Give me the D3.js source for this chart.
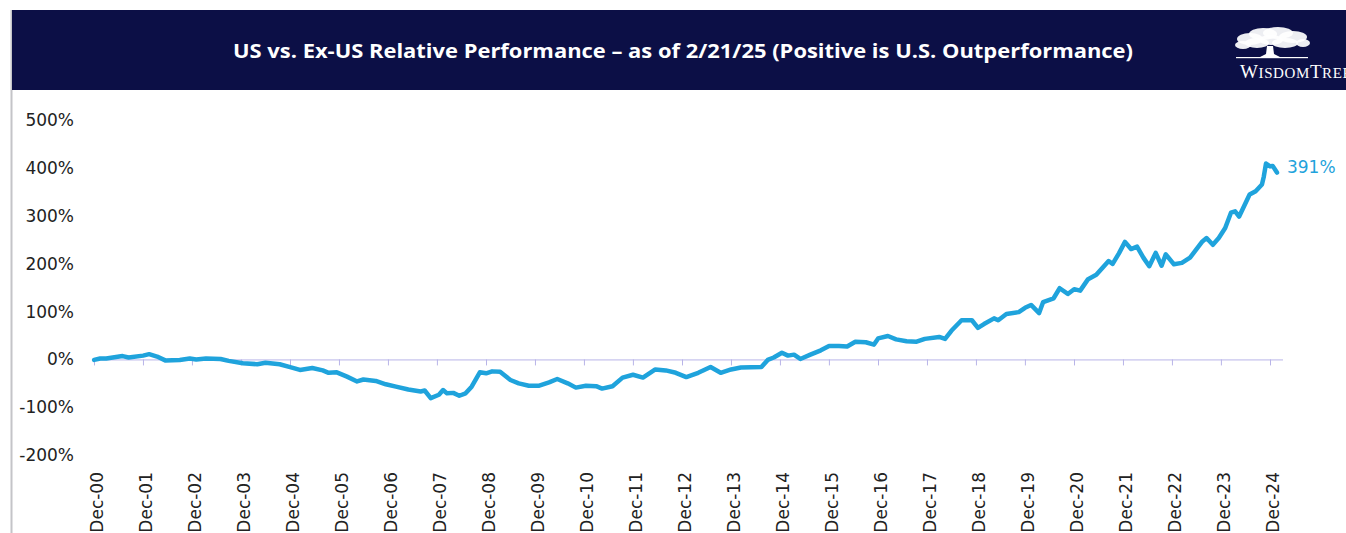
<!doctype html>
<html lang="en">
<head>
<meta charset="utf-8">
<title>US vs. Ex-US Relative Performance</title>
<style>
  body { margin: 0; background: #fff; }
  svg { display: block; }
</style>
</head>
<body>
<script src="https://cdnjs.cloudflare.com/ajax/libs/d3/7.8.5/d3.min.js"></script>
<script>

// relative performance readings (US minus ex-US, %)
var dates = [
  "2001-01-01","2001-02-15","2001-04-01","2001-08-01","2001-09-15","2002-01-01","2002-02-15","2002-04-15",
  "2002-06-15","2002-10-01","2002-12-15","2003-02-01","2003-04-15","2003-08-01","2003-10-01","2004-01-15",
  "2004-05-01","2004-07-01","2004-10-15","2005-01-01","2005-03-15","2005-06-15","2005-09-01","2005-10-15",
  "2005-12-15","2006-03-01","2006-05-15","2006-07-01","2006-10-01","2006-12-15","2007-03-01","2007-06-01",
  "2007-09-01","2007-10-01","2007-11-15","2008-01-15","2008-02-15","2008-03-15","2008-05-01","2008-06-15",
  "2008-08-01","2008-09-15","2008-11-15","2009-01-01","2009-02-15","2009-04-15","2009-07-01","2009-09-01",
  "2009-11-15","2010-02-01","2010-04-15","2010-06-15","2010-09-01","2010-11-01","2011-01-15","2011-04-01",
  "2011-05-15","2011-08-01","2011-10-15","2012-01-01","2012-03-15","2012-06-15","2012-09-01","2012-11-15",
  "2013-02-01","2013-05-01","2013-08-01","2013-10-15","2014-01-01","2014-03-15","2014-08-15","2014-10-01",
  "2014-11-15","2015-01-15","2015-03-01","2015-04-15","2015-06-01","2015-08-15","2015-11-01","2016-01-01",
  "2016-03-15","2016-05-15","2016-07-15","2016-10-01","2016-12-01","2017-01-01","2017-03-15","2017-05-15",
  "2017-08-01","2017-10-15","2017-12-15","2018-04-01","2018-05-15","2018-07-01","2018-09-15","2018-12-01",
  "2019-01-15","2019-03-01","2019-05-15","2019-06-15","2019-08-15","2019-11-15","2020-01-01","2020-02-15",
  "2020-04-15","2020-05-15","2020-08-01","2020-09-15","2020-11-15","2021-01-01","2021-02-15","2021-04-15",
  "2021-06-15","2021-08-01","2021-09-15","2021-10-15","2021-12-01","2022-01-15","2022-03-01","2022-04-15",
  "2022-06-01","2022-07-15","2022-09-01","2022-10-15","2022-11-15","2023-01-15","2023-03-15","2023-05-15",
  "2023-08-15","2023-09-15","2023-11-01","2023-12-15","2024-02-01","2024-03-15","2024-04-15","2024-05-15",
  "2024-07-01","2024-08-01","2024-09-15","2024-11-01","2024-11-15","2024-12-01","2025-01-01","2025-01-20",
  "2025-02-21"
];
var values = [
  -1, 2, 2, 7, 4, 8, 11, 6,
  -2, -1, 2, 0, 2, 1, -3, -8,
  -10, -7, -10, -16, -22, -18, -23, -28,
  -27, -36, -46, -42, -45, -52, -57, -63,
  -67, -65, -81, -74, -64, -71, -70, -76,
  -71, -57, -27, -29, -25, -26, -43, -50,
  -55, -55, -48, -41, -50, -59, -55, -56,
  -61, -56, -38, -32, -38, -21, -23, -28,
  -37, -28, -16, -28, -21, -17, -16, -1,
  4, 14, 8, 10, 1, 10, 19, 28,
  28, 27, 37, 36, 31, 44, 49, 42,
  38, 37, 43, 47, 43, 60, 82, 82,
  66, 74, 86, 82, 95, 99, 108, 114,
  97, 120, 128, 149, 137, 147, 144, 168,
  177, 192, 206, 200, 222, 246, 231, 236,
  213, 195, 223, 196, 220, 199, 202, 213,
  247, 254, 240, 254, 275, 307, 310, 299,
  327, 345, 352, 366, 383, 410, 404, 405,
  391
];

var yTicks = [-200, -100, 0, 100, 200, 300, 400, 500];
var xTickYears = d3.range(2000, 2025); // Dec-00 .. Dec-24
var titleText = "US vs. Ex-US Relative Performance \u2013 as of 2/21/25 (Positive is U.S. Outperformance)";
var endLabel = "391%";

var W = 1346, H = 533;
var blue = "#1fa3dc";
var parse = d3.timeParse("%Y-%m-%d");
var data = dates.map(function(d, i){ return { date: parse(d), value: values[i] }; });

var svg = d3.select("body").append("svg")
    .attr("width", W)
    .attr("height", H);

// left frame line
svg.append("line")
   .attr("x1", 11.5).attr("x2", 11.5)
   .attr("y1", 10).attr("y2", H)
   .attr("stroke", "#c4c4c8").attr("stroke-width", 2);

// title bar
svg.append("rect")
   .attr("x", 12).attr("y", 10)
   .attr("width", W - 12).attr("height", 80)
   .attr("fill", "#0c0f46");

svg.append("text")
   .attr("x", 683).attr("y", 50)
   .attr("text-anchor", "middle")
   .attr("dominant-baseline", "central")
   .attr("fill", "#fff")
   .attr("textLength", 900)
   .attr("lengthAdjust", "spacingAndGlyphs")
   .style("font-family", "'Open Sans', Roboto, sans-serif")
   .style("font-weight", "bold")
   .style("font-size", "20px")
   .text(titleText);

// logo: tree + wordmark (runs off the right edge, as in the source)
var logo = svg.append("g").attr("fill", "#fff");
var canopy = [[1250,39,13,6],[1263,34,14,6],[1278,33,15,6],[1293,37,14,6],[1303,43,7,4],
              [1243,45,8,4],[1257,43,12,5],[1285,43,13,5],[1271,40,12,5]];
logo.selectAll("ellipse").data(canopy).enter().append("ellipse")
    .attr("cx", function(d){ return d[0]; })
    .attr("cy", function(d){ return d[1]; })
    .attr("rx", function(d){ return d[2]; })
    .attr("ry", function(d){ return d[3]; })
    .attr("opacity", 0.93);
logo.append("path")
    .attr("d", "M1267,46 L1273,46 L1274,54 L1280,57 L1260,57 L1266,54 Z");
logo.append("rect").attr("x", 1236).attr("y", 57).attr("width", 72).attr("height", 1.2);
var word = logo.append("text")
    .attr("x", 1240).attr("y", 78)
    .style("font-family", "'Liberation Serif', serif")
    .style("letter-spacing", "0.6px");
word.append("tspan").style("font-size", "19px").text("W");
word.append("tspan").style("font-size", "15px").text("ISDOM");
word.append("tspan").style("font-size", "19px").text("T");
word.append("tspan").style("font-size", "15px").text("REE");

// scales
var x = d3.scaleTime()
    .domain([new Date(2000, 11, 31), new Date(2024, 11, 31)])
    .range([94, 1270]);

var y = d3.scaleLinear()
    .domain([-200, 500])
    .range([455, 120.5]);

// y labels
var yAxis = svg.append("g")
    .attr("transform", "translate(74,0)")
    .call(d3.axisLeft(y).tickValues(yTicks).tickSize(0).tickPadding(0)
          .tickFormat(function(d){ return d + "%"; }));
yAxis.select(".domain").remove();
yAxis.selectAll("text")
    .attr("fill", "#222")
    .style("font-family", "'DejaVu Sans', sans-serif")
    .style("font-size", "17px");

// zero line with ticks
var y0 = y(0);
var xAxis = svg.append("g")
    .attr("transform", "translate(0," + y0 + ")")
    .call(d3.axisBottom(x)
          .tickValues(xTickYears.map(function(yr){ return new Date(yr, 11, 31); }))
          .tickSize(6).tickSizeOuter(0)
          .tickFormat(function(d){ return "Dec-" + d3.timeFormat("%y")(d); }));
xAxis.select(".domain")
    .attr("d", "M93,0.5H1283")
    .attr("stroke", "#b8b4e8");
xAxis.selectAll(".tick line").attr("stroke", "#b8b4e8");
xAxis.selectAll(".tick text")
    .attr("transform", "rotate(-90)")
    .attr("text-anchor", "end")
    .attr("x", -(472 - y0))
    .attr("y", 3)
    .attr("dy", "0.35em")
    .attr("fill", "#222")
    .style("font-family", "'DejaVu Sans', sans-serif")
    .style("font-size", "17px");

// performance line
var line = d3.line()
    .x(function(d){ return x(d.date); })
    .y(function(d){ return y(d.value); });

svg.append("path")
   .datum(data)
   .attr("d", line)
   .attr("fill", "none")
   .attr("stroke", blue)
   .attr("stroke-width", 4.5)
   .attr("stroke-linejoin", "round")
   .attr("stroke-linecap", "round");

var last = data[data.length - 1];
svg.append("text")
   .attr("x", x(last.date) + 10)
   .attr("y", 167)
   .attr("dominant-baseline", "central")
   .attr("fill", blue)
   .style("font-family", "'DejaVu Sans', sans-serif")
   .style("font-size", "17px")
   .text(endLabel);

</script>
</body>
</html>
